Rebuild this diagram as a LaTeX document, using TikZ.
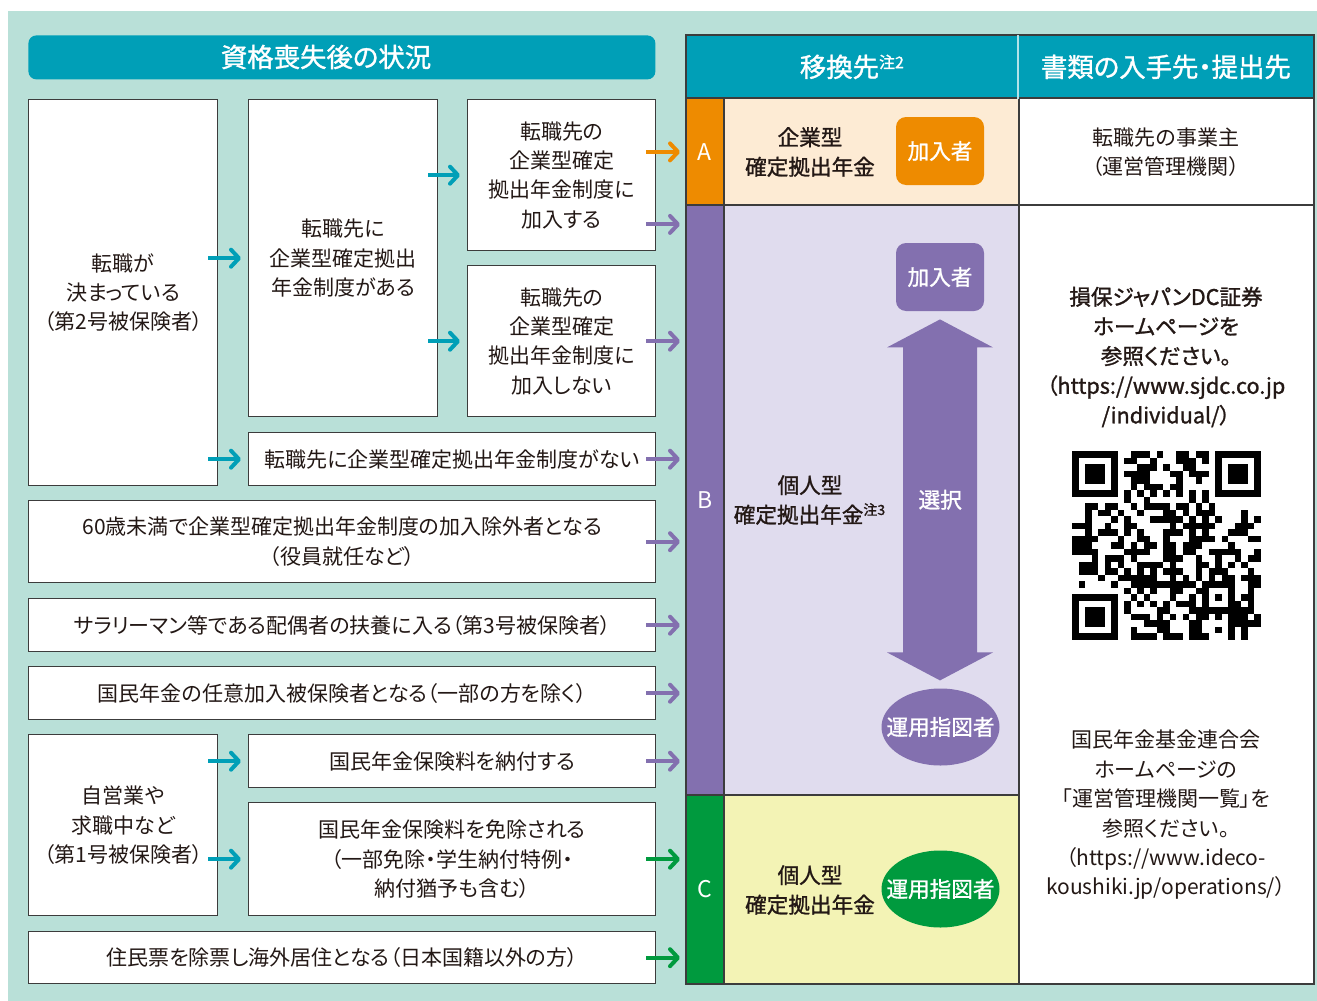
\documentclass[tikz,border=0pt]{standalone}
\usepackage{fontspec}
\setmainfont{Noto Sans CJK JP}[RawFeature=+palt]
\newfontfamily\medfont{Noto Sans CJK JP}[RawFeature=+palt,FakeBold=1.2]
\usetikzlibrary{arrows.meta,positioning,calc,shapes.geometric}
\definecolor{mint}{RGB}{185,224,216}
\definecolor{hdteal}{RGB}{0,159,183}
\definecolor{orA}{RGB}{238,139,0}
\definecolor{orApale}{RGB}{253,235,212}
\definecolor{puB}{RGB}{131,112,175}
\definecolor{puBpale}{RGB}{224,220,238}
\definecolor{grC}{RGB}{0,154,62}
\definecolor{grCpale}{RGB}{243,243,181}
\definecolor{ink}{RGB}{35,24,21}
\definecolor{rule}{RGB}{60,60,60}
\newcommand{\fs}{\fontsize{10.5pt}{14.7pt}\selectfont}
\newcommand{\fb}{\medfont\fontsize{10.8pt}{14.8pt}\selectfont}
\newcommand{\fh}{\medfont\fontsize{13.2pt}{15pt}\selectfont}

\begin{document}
\begin{tikzpicture}[x=0.5pt,y=-0.5pt,
    box/.style={draw=rule,fill=white,line width=0.7pt,align=center,inner sep=0pt,text=ink,font=\fs,anchor=north west},
    cell/.style={inner sep=0pt,anchor=north west,align=center},
    lab/.style={cell,text=white,font=\fontsize{11.5pt}{13pt}\selectfont,minimum width=18.5pt},
    pill/.style={rounded corners=5pt,minimum width=44pt,minimum height=34pt,inner sep=0pt,text=white,font=\fb},
    oval/.style={ellipse,minimum width=59pt,minimum height=38.5pt,inner sep=0pt},
    tline/.style={draw=rule,line width=0.7pt},
    tarr/.style={hdteal,line width=2pt,-{Straight Barb[length=4pt,width=8.5pt,round]},shorten <=-5pt,shorten >=3.5pt},
    rarr/.style={#1,line width=2pt,-{Straight Barb[length=4pt,width=8.5pt,round]},shorten <=-5pt,shorten >=3pt}]
  \useasboundingbox (0,0) rectangle (1317,1001);
  \fill[mint] (8,11) rectangle (1317,1001);

  % 左側：資格喪失後の状況
  \node[cell,fill=hdteal,rounded corners=4pt,minimum width=313.5pt,minimum height=22pt] (hbar) at (28,35) {};
  \node[text=white,font=\fh] (htxt) at (326,57) {資格喪失後の状況};

  \node[box,minimum width=94.5pt,minimum height=193pt] (k1) at (28,99) {転職が\\決まっている\\（第2号被保険者）};
  \node[box,minimum width=94.5pt,minimum height=158.5pt] (k2) at (248,99) {転職先に\\企業型確定拠出\\年金制度がある};
  \node[box,minimum width=94pt,minimum height=75.5pt] (k3) at (467,99) {転職先の\\企業型確定\\拠出年金制度に\\加入する};
  \node[box,minimum width=94pt,minimum height=75.5pt] (k4) at (467,265) {転職先の\\企業型確定\\拠出年金制度に\\加入しない};
  \node[box,minimum width=203.5pt,minimum height=26.5pt] (k5) at (248,432) {転職先に企業型確定拠出年金制度がない};
  \node[box,minimum width=313.5pt,minimum height=41pt] (k6) at (28,500) {60歳未満で企業型確定拠出年金制度の加入除外者となる\\（役員就任など）};
  \node[box,minimum width=313.5pt,minimum height=26.5pt] (k7) at (28,598) {サラリーマン等である配偶者の扶養に入る（第3号被保険者）};
  \node[box,minimum width=313.5pt,minimum height=26.5pt] (k8) at (28,666) {国民年金の任意加入被保険者となる（一部の方を除く）};
  \node[box,minimum width=94.5pt,minimum height=90.5pt] (k9) at (28,734) {自営業や\\求職中など\\（第1号被保険者）};
  \node[box,minimum width=203.5pt,minimum height=26.5pt] (k10) at (248,734) {国民年金保険料を納付する};
  \node[box,minimum width=203.5pt,minimum height=56.5pt] (k11) at (248,802) {国民年金保険料を免除される\\（一部免除・学生納付特例・\\納付猶予も含む）};
  \node[box,minimum width=313.5pt,minimum height=26pt] (k12) at (28,931) {住民票を除票し海外居住となる（日本国籍以外の方）};

  % 右側：移換先と書類の表
  \node[cell,fill=hdteal,minimum width=166pt,minimum height=31.5pt,text=white,font=\fh] (hdL) at (686,35) {移換先\textsuperscript{\fontsize{8pt}{9pt}\selectfont 注2}};
  \node[cell,fill=hdteal,minimum width=147.5pt,minimum height=31.5pt,text=white,font=\fh] (hdR) at (1018,35) {書類の入手先・提出先};
  \node[lab,fill=orA,minimum height=53.5pt] (labA) at (686,98) {A};
  \node[cell,fill=orApale,minimum width=147.5pt,minimum height=53.5pt] (cellA) at (723,98) {};
  \node[lab,fill=puB,minimum height=295pt] (labB) at (686,205) {B};
  \node[cell,fill=puBpale,minimum width=147.5pt,minimum height=295pt] (cellB) at (723,205) {};
  \node[lab,fill=grC,minimum height=94pt] (labC) at (686,795) {C};
  \node[cell,fill=grCpale,minimum width=147.5pt,minimum height=94pt] (cellC) at (723,795) {};
  \node[cell,fill=white,minimum width=147.5pt,minimum height=53.5pt,text=ink,font=\fs] (docA) at (1018,98) {転職先の事業主\\（運営管理機関）};
  \node[cell,fill=white,minimum width=147.5pt,minimum height=389pt] (docB) at (1018,205) {};

  \draw[tline] (hdL.north west) rectangle (docB.south east);
  \draw[tline] (labA.north west) -- (docA.north east);
  \draw[tline] (labB.north west) -- (docB.north east);
  \draw[tline] (labC.north west) -- (cellC.north east);
  \draw[tline] (labA.north east) -- (labC.south east);
  \draw[tline] (cellA.north east) -- (cellC.south east);
  \draw[white!70!hdteal,line width=0.7pt] (hdR.north west) -- (hdR.south west);

  \node[text=ink,font=\fb,align=center] (tA) at (810,152) {企業型\\確定拠出年金};
  \node[pill,fill=orA] (kaA) at (940,151) {加入者};
  \node[text=ink,font=\fb,align=center] (tB) at (810,500) {個人型\\確定拠出年金\textsuperscript{\fontsize{7pt}{8pt}\selectfont 注3}};
  \node[pill,fill=puB] (kaB) at (940,277) {加入者};
  \node[oval,fill=puB,label={[text=white,font=\fb]center:運用指図者}] (unB) at (940.5,727) {};
  \node[text=ink,font=\fb,align=center] (tC) at (810,890) {個人型\\確定拠出年金};
  \node[oval,fill=grC,label={[text=white,font=\fb]center:運用指図者}] (unC) at (940.5,889) {};

  % 選択の両矢印
  \fill[puB] ($(kaB.south)+(0,8)$) -- ++(53,28) -- ++(-16,0) -- ++(0,305) -- ++(16,0)
    -- ++(-53,28) -- ++(-53,-28) -- ++(16,0) -- ++(0,-305) -- ++(-16,0) -- cycle;
  \node[text=white,font=\fb] (sen) at ($(kaB.south)!0.5!(unB.north)$) {選択};

  \node[text=ink,font=\fb,align=center] (sjdc) at (1166,357) {損保ジャパンDC証券\\ホームページを\\参照ください。\\（https://www.sjdc.co.jp\\/individual/）};
  \node[text=ink,font=\fs,align=center] (npfa) at (1166,815) {国民年金基金連合会\\ホームページの\\「運営管理機関一覧」を\\参照ください。\\（https://www.ideco-\\koushiki.jp/operations/）};

  % QRコード
  \begin{scope}[shift={(1072,451)},x=3.25pt,y=-3.25pt]
    \pgfmathsetseed{27}
    \foreach \r in {0,...,28}{\foreach \c in {0,...,28}{
      \pgfmathtruncatemacro\fixd{((\r<8)&&(\c<8))||((\r<8)&&(\c>20))||((\r>20)&&(\c<8))||(\r==6)||(\c==6)||((\r>19)&&(\r<25)&&(\c>19)&&(\c<25))}
      \ifnum\fixd=0 \pgfmathtruncatemacro\bit{rnd<0.5}\ifnum\bit=1 \fill (\c,\r) rectangle ++(1.03,1.03);\fi\fi}}
    \foreach \px/\py in {0/0,22/0,0/22}{
      \fill (\px,\py) rectangle ++(7,7);
      \fill[white] (\px+1,\py+1) rectangle ++(5,5);
      \fill (\px+2,\py+2) rectangle ++(3,3);}
    \foreach \t in {8,10,...,20}{
      \fill (\t,6) rectangle ++(1.03,1.03);
      \fill (6,\t) rectangle ++(1.03,1.03);}
    \fill (20,20) rectangle ++(5,5);
    \fill[white] (21,21) rectangle ++(3,3);
    \fill (22,22) rectangle ++(1,1);
  \end{scope}

  % 矢印
  \draw[tarr] (k1.east |- k2.west) -- (k2.west);
  \draw[tarr] (k2.east |- k3.west) -- (k3.west);
  \draw[tarr] (k2.east |- k4.west) -- (k4.west);
  \draw[tarr] (k1.east |- k5.west) -- (k5.west);
  \draw[tarr] (k9.east |- k10.west) -- (k10.west);
  \draw[tarr] (k9.east |- k11.west) -- (k11.west);
  \coordinate (k3b) at ([yshift=13.5pt]k3.south east);
  \draw[rarr=orA] (k3.east |- labA.west) -- (labA.west);
  \draw[rarr=puB] (k3b) -- (k3b -| labB.west);
  \foreach \k in {k4,k5,k6,k7,k8,k10}{
    \draw[rarr=puB] (\k.east) -- (\k.east -| labB.west);}
  \foreach \k in {k11,k12}{
    \draw[rarr=grC] (\k.east) -- (\k.east -| labC.west);}
\end{tikzpicture}
\end{document}
